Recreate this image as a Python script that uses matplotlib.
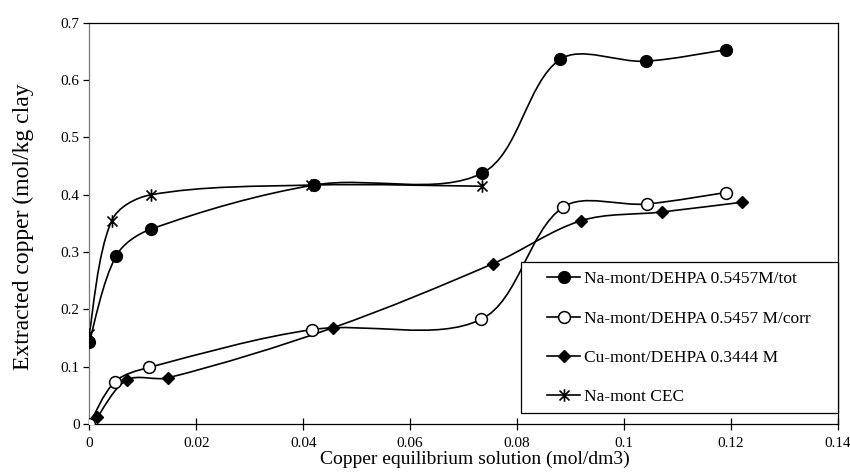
import matplotlib.pyplot as plt
import numpy as np
from matplotlib.path import Path
from matplotlib.patches import PathPatch, Rectangle

plt.rcParams['font.family'] = ['Liberation Serif', 'DejaVu Serif']

tot_x = [0.0, 0.005, 0.0115, 0.042, 0.0735, 0.088, 0.104, 0.119]
tot_y = [0.143, 0.293, 0.340, 0.417, 0.438, 0.636, 0.633, 0.653]

corr_x = [0.0, 0.0048, 0.0112, 0.0417, 0.0733, 0.0885, 0.1042, 0.119]
corr_y = [0.0, 0.074, 0.099, 0.165, 0.183, 0.378, 0.384, 0.404]

cu_x = [0.0015, 0.007, 0.0148, 0.0455, 0.0755, 0.092, 0.107, 0.122]
cu_y = [0.012, 0.077, 0.081, 0.168, 0.280, 0.355, 0.370, 0.387]

cec_x = [0.0, 0.0042, 0.0115, 0.0415, 0.0735]
cec_y = [0.158, 0.355, 0.400, 0.417, 0.415]

labels = ["Na-mont/DEHPA 0.5457M/tot", "Na-mont/DEHPA 0.5457 M/corr",
          "Cu-mont/DEHPA 0.3444 M", "Na-mont CEC"]

x_ticks = [0, 0.02, 0.04, 0.06, 0.08, 0.1, 0.12, 0.14]
x_ticklabels = ["0", "0.02", "0.04", "0.06", "0.08", "0.1", "0.12", "0.14"]
y_ticks = [0, 0.1, 0.2, 0.3, 0.4, 0.5, 0.6, 0.7]
y_ticklabels = ["0", "0.1", "0.2", "0.3", "0.4", "0.5", "0.6", "0.7"]

# star marker: an X with a vertical bar through it
star = Path([(-1, -1), (1, 1), (-1, 1), (1, -1), (0, -1.25), (0, 1.25)],
            [Path.MOVETO, Path.LINETO] * 3)


def smooth_path(xs, ys, sx=749 / 0.14, sy=401 / 0.7):
    # smoothed line as cubic bezier segments, handle length scaled by
    # neighbouring segment lengths measured in screen-like units
    p = np.column_stack([xs, ys])
    n = len(p)
    scale = np.array([sx, sy])
    d = np.hypot(*((np.diff(p, axis=0) * scale).T))
    tang = np.zeros_like(p)
    for i in range(n):
        a = p[max(i - 1, 0)]
        b = p[min(i + 1, n - 1)]
        tang[i] = b - a
    verts = [p[0]]
    codes = [Path.MOVETO]
    for i in range(n - 1):
        if 0 < i:
            w1 = d[i] / (d[i - 1] + d[i]) / 3
        else:
            w1 = 1 / 6
        if i + 1 < n - 1:
            w2 = d[i] / (d[i] + d[i + 1]) / 3
        else:
            w2 = 1 / 6
        c1 = p[i] + tang[i] * w1
        c2 = p[i + 1] - tang[i + 1] * w2
        verts += [c1, c2, p[i + 1]]
        codes += [Path.CURVE4] * 3
    return Path(verts, codes)


fig = plt.figure(figsize=(8.5, 4.75), dpi=100)
ax = fig.add_axes([0.105, 0.107, 0.881, 0.845])

series = [
    (tot_x, tot_y, dict(marker='o', ms=8.5, mfc='black', mec='black')),
    (corr_x, corr_y, dict(marker='o', ms=8.5, mfc='white', mec='black', mew=1.1)),
    (cu_x, cu_y, dict(marker='D', ms=6, mfc='black', mec='black')),
    (cec_x, cec_y, dict(marker=star, ms=9, mfc='black', mec='black', mew=1.2)),
]

for (xs, ys, style), lab in zip(series, labels):
    ax.add_patch(PathPatch(smooth_path(xs, ys), fill=False, lw=1.2,
                           edgecolor='black', zorder=2))
    ax.plot(xs, ys, ls='none', zorder=3, **style)
    ax.plot([], [], color='black', lw=1.2, label=lab, **style)

ax.set_xlim(0, 0.14)
ax.set_ylim(0, 0.7)
ax.set_xticks(x_ticks)
ax.set_xticklabels(x_ticklabels)
ax.set_yticks(y_ticks)
ax.set_yticklabels(y_ticklabels)
ax.tick_params(axis='x', direction='inout', length=9, width=0.9,
               labelsize=11, pad=5)
ax.tick_params(axis='y', direction='out', length=4, width=0.9,
               labelsize=11, pad=3)
for s in ax.spines.values():
    s.set_linewidth(0.9)
ax.spines['left'].set_color('#777777')

ax.set_xlabel("Copper equilibrium solution (mol/dm3)", fontsize=14)
ax.xaxis.set_label_coords(0.515, -0.067)
ax.set_ylabel("Extracted copper (mol/kg clay", fontsize=17)
ax.yaxis.set_label_coords(-0.074, 0.491)

# legend frame drawn separately so it can be wider than its contents
ax.add_patch(Rectangle((0.577, 0.027), 0.423, 0.377, transform=ax.transAxes,
                       fill=True, facecolor='white', edgecolor='black',
                       lw=0.9, zorder=4, clip_on=False))
leg = ax.legend(loc='upper left', bbox_to_anchor=(0.6115, 0.381),
                fontsize=12.5, frameon=False, handlelength=1.9,
                handletextpad=0.25, labelspacing=1.33,
                borderpad=0, borderaxespad=0)
leg.set_zorder(5)

fig.savefig("out.png", dpi=100)
